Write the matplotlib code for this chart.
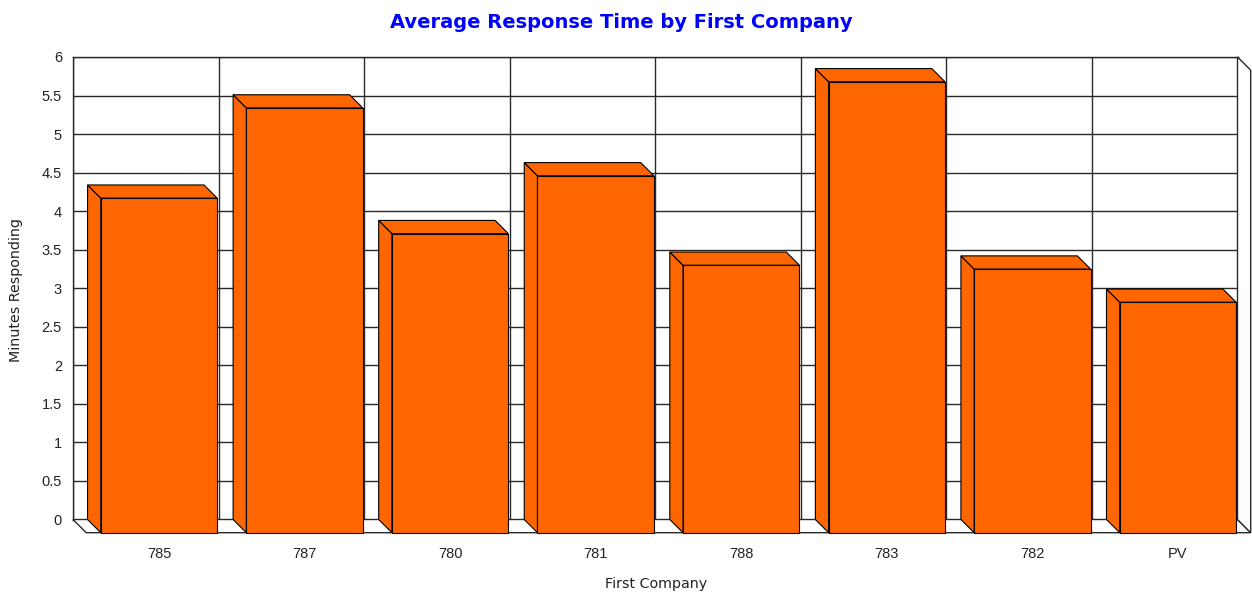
import matplotlib
matplotlib.use("Agg")
import matplotlib.pyplot as plt
from matplotlib.patches import Polygon, Rectangle
import numpy as np

plt.rcParams['font.family'] = ['Liberation Sans', 'DejaVu Sans']

companies = ["785", "787", "780", "781", "788", "783", "782", "PV"]
avg_minutes = [4.34, 5.51, 3.88, 4.63, 3.47, 5.85, 3.42, 2.99]
y_ticks = [0, 0.5, 1, 1.5, 2, 2.5, 3, 3.5, 4, 4.5, 5, 5.5, 6]
y_tick_labels = ["0", "0.5", "1", "1.5", "2", "2.5", "3", "3.5", "4", "4.5", "5", "5.5", "6"]

title = "Average Response Time by First Company"
x_label = "First Company"
y_label = "Minutes Responding"

BAR_COLOR = "#FF6600"
EDGE = "#000000"
GRID = "#2a2a2a"
TEXT = "#222222"
DEPTH_PX = 13.2

W, H = 1252, 594
fig = plt.figure(figsize=(W / 100, H / 100), dpi=100)
left, right, top, bottom = 73, 1237.5, 57, 519.5
ax = fig.add_axes([left / W, 1 - bottom / H, (right - left) / W, (bottom - top) / H])

n = len(companies)
ax.set_xlim(-0.5, n - 0.5)
ax.set_ylim(0, 6)

# depth offset of the 3D effect, converted from pixels into data units
x_per_px = n / (right - left)
y_per_px = 6 / (bottom - top)
dx = DEPTH_PX * x_per_px
dy = -DEPTH_PX * y_per_px

# back wall grid
for yv in y_ticks:
    ax.plot([-0.5, n - 0.5], [yv, yv], color=GRID, lw=1.0, zorder=1)
for b in np.arange(-0.5, n, 1.0):
    ax.plot([b, b], [0, 6], color=GRID, lw=1.0, zorder=1)

# floor and right side wall
floor = Polygon([(-0.5, 0), (n - 0.5, 0), (n - 0.5 + dx, dy), (-0.5 + dx, dy)],
                closed=True, facecolor="white", edgecolor=GRID, lw=1.0,
                clip_on=False, zorder=2)
ax.add_patch(floor)
side_wall = Polygon([(n - 0.5, 6), (n - 0.5 + dx, 6 + dy), (n - 0.5 + dx, dy), (n - 0.5, 0)],
                    closed=True, facecolor="white", edgecolor=GRID, lw=1.0,
                    clip_on=False, zorder=2)
ax.add_patch(side_wall)

# 3D bars: left side face, top face, then front face
width = 0.8
for i, v in enumerate(avg_minutes):
    x0, x1 = i - width / 2, i + width / 2
    side = Polygon([(x0, 0), (x0, v), (x0 + dx, v + dy), (x0 + dx, dy)], closed=True,
                   facecolor=BAR_COLOR, edgecolor=EDGE, lw=0.8, clip_on=False, zorder=3)
    topf = Polygon([(x0, v), (x1, v), (x1 + dx, v + dy), (x0 + dx, v + dy)], closed=True,
                   facecolor=BAR_COLOR, edgecolor=EDGE, lw=0.8, clip_on=False, zorder=3)
    front = Rectangle((x0 + dx, dy), width, v, facecolor=BAR_COLOR, edgecolor=EDGE,
                      lw=0.8, clip_on=False, zorder=4)
    ax.add_patch(side)
    ax.add_patch(topf)
    ax.add_patch(front)

for s in ax.spines.values():
    s.set_color(GRID)
    s.set_linewidth(1.0)
    s.set_zorder(1)

ax.set_xticks([i + dx for i in range(n)])
ax.set_xticklabels(companies)
ax.set_yticks(y_ticks)
ax.set_yticklabels(y_tick_labels)
ax.tick_params(axis='x', length=0, pad=20, labelsize=10.5, labelcolor=TEXT)
ax.tick_params(axis='y', length=0, pad=8, labelsize=10.5, labelcolor=TEXT)

fig.text(621 / W, 1 - 22 / H, title, color="#0000FF", fontsize=14,
         fontweight="bold", family=["DejaVu Sans"], ha="center", va="center")
fig.text(656 / W, 1 - 584 / H, x_label, color=TEXT, fontsize=10.3,
         family=["DejaVu Sans"], ha="center", va="center")
fig.text(16 / W, 1 - 290 / H, y_label, color=TEXT, fontsize=10.3,
         family=["DejaVu Sans"], ha="center", va="center", rotation=90)

fig.savefig("out.png", dpi=100, facecolor="white")
